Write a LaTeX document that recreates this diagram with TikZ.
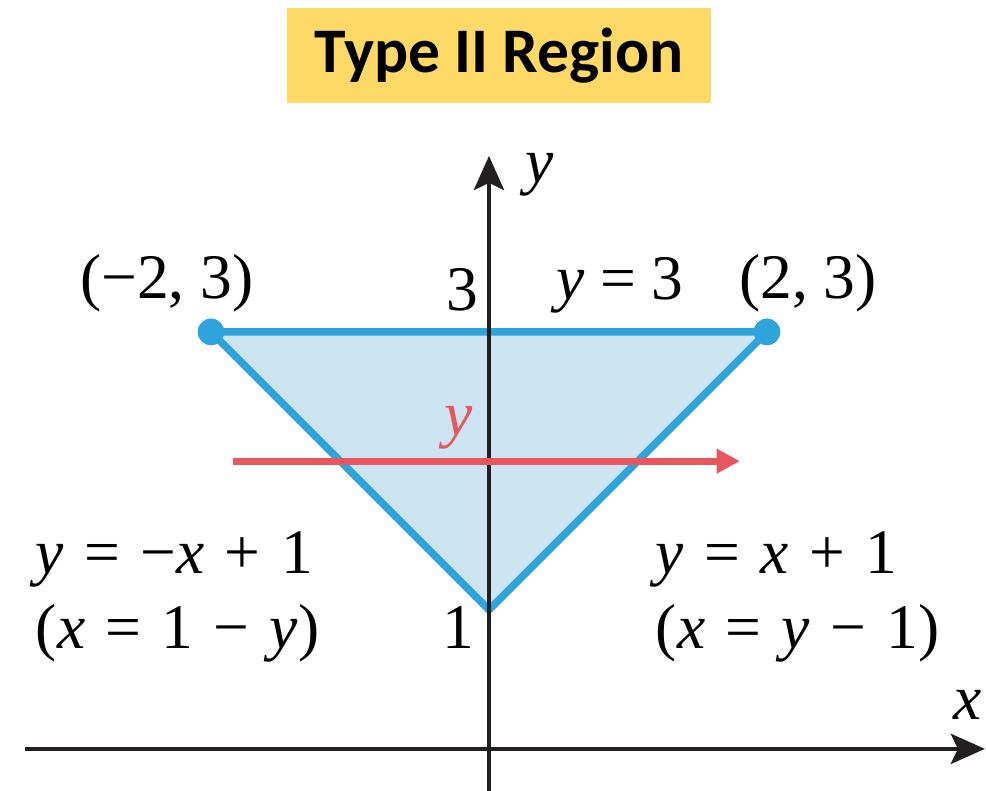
\documentclass[tikz,border=0pt]{standalone}
\usepackage{fontspec}
\setmainfont{Liberation Serif}
\newfontfamily\titlefont{Carlito}
\usetikzlibrary{arrows.meta, positioning}
\definecolor{titleyellow}{RGB}{255,217,102}
\definecolor{edgeblue}{RGB}{46,163,220}
\definecolor{fillblue}{RGB}{205,229,242}
\definecolor{sweepred}{RGB}{232,86,94}
\definecolor{axisblack}{RGB}{35,31,32}
\newcommand{\widespaces}{\spaceskip=0.32em\relax}
\tikzstyle{axis} = [
    line width=0.8pt,
    draw=axisblack,
    -{Stealth[length=7pt,width=6.2pt,inset=1.5pt]}
]
\tikzstyle{boundary} = [
    line width=1.5pt,
    draw=edgeblue,
    fill=fillblue,
    line join=miter
]
\tikzstyle{vertex} = [
    circle,
    fill=edgeblue,
    minimum size=0.19cm,
    inner sep=0pt
]
\tikzstyle{sweep} = [
    line width=1.4pt,
    draw=sweepred,
    -{Triangle[length=4.8pt,width=4.8pt]}
]
\tikzstyle{mathlabel} = [
    font=\fontsize{13}{15.5}\selectfont,
    inner sep=0pt
]
\tikzstyle{equation} = [
    font=\fontsize{13}{15.2}\selectfont,
    inner sep=0pt,
    align=left,
    anchor=west
]
\tikzstyle{titlebox} = [
    rectangle,
    fill=titleyellow,
    minimum width=3.05cm,
    minimum height=0.684cm,
    font=\titlefont\bfseries\fontsize{13}{15}\selectfont
]

\begin{document}
\begin{tikzpicture}

\useasboundingbox (-3.518,-0.302) rectangle (3.576,5.388);

\node (title) [titlebox] at (0.072,4.989) {Type II Region};

% axes
\coordinate (xstart) at (-3.338,0);
\coordinate (xend) at (3.568,0);
\coordinate (ystart) at (0,-0.302);
\coordinate (yend) at (0,4.266);

% region
\coordinate (apex) at (0,1);
\node (leftcorner) [vertex] at (-2,3) {};
\node (rightcorner) [vertex] at (2,3) {};
\draw [boundary] (leftcorner.center) -- (rightcorner.center) -- (apex) -- cycle;
\node [vertex] at (-2,3) {};
\node [vertex] at (2,3) {};

\draw [axis] (xstart) -- (xend);
\draw [axis] (ystart) -- (yend);

\node (xlabel) [mathlabel] at (3.446,0.317) {\textit{x}};
\node (ylabel) [mathlabel] at (0.367,4.13) {\textit{y}};
\node (three) [mathlabel] at (-0.194,3.30) {3};
\node (one) [mathlabel] at (-0.223,0.87) {1};

% horizontal sweep
\coordinate (sweepstart) at (-1.84,2.07);
\coordinate (sweepend) at (1.806,2.07);
\draw [sweep] (sweepstart) -- (sweepend);
\node (sweeplabel) [mathlabel, text=sweepred] at (-0.22,2.31) {\textit{y}};

\node (leftpoint) [mathlabel] at (-2.317,3.353) {(−2, 3)};
\node (rightpoint) [mathlabel] at (2.295,3.353) {(2, 3)};
\node (topline) [mathlabel] at (0.942,3.338) {\textit{y} = 3};

\node (leftedge) [equation] at (-3.266,1.094)
{\widespaces\textit{y} = −\textit{x} + 1\\\widespaces(\textit{x} = 1 − \textit{y})};
\node (rightedge) [equation] at (1.194,1.094)
{\widespaces\textit{y} = \textit{x} + 1\\\widespaces(\textit{x} = \textit{y} − 1)};

\end{tikzpicture}
\end{document}
